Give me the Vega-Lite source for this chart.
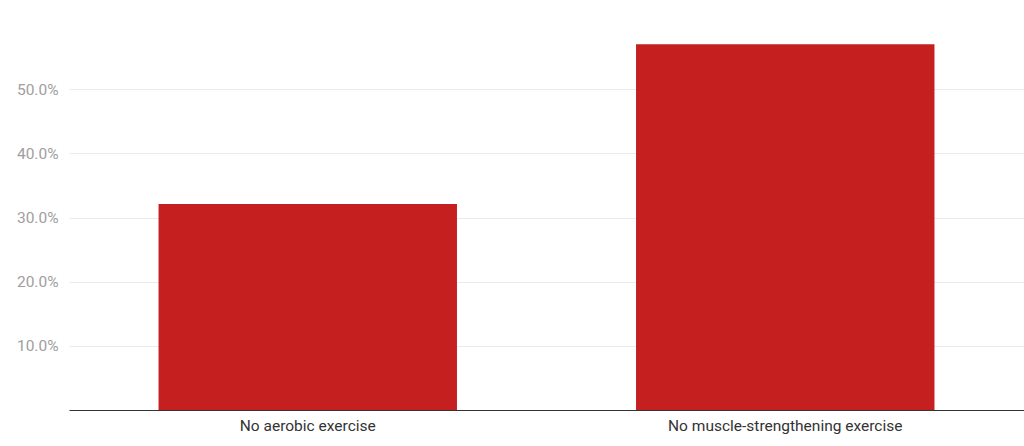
{
  "$schema": "https://vega.github.io/schema/vega-lite/v6.json",
  "width": 955,
  "height": 410,
  "autosize": "none",
  "padding": {"left": 69, "top": 0, "right": 0, "bottom": 36},
  "background": "white",
  "config": {
    "view": {"stroke": null},
    "font": "Roboto"
  },
  "data": {
    "values": [
      {"category": "No aerobic exercise", "share": 0.321},
      {"category": "No muscle-strengthening exercise", "share": 0.570}
    ]
  },
  "mark": {"type": "bar", "color": "#c61f1f"},
  "encoding": {
    "x": {
      "field": "category",
      "type": "nominal",
      "sort": null,
      "scale": {"paddingInner": 0.375, "paddingOuter": 0.1875},
      "axis": {
        "title": null,
        "labelAngle": 0,
        "labelLimit": 0,
        "labelFont": "Roboto",
        "labelFontSize": 15.5,
        "labelColor": "#333333",
        "labelPadding": 8,
        "ticks": false,
        "domainColor": "#333333",
        "domainWidth": 1
      }
    },
    "y": {
      "field": "share",
      "type": "quantitative",
      "scale": {"domain": [0, 0.639], "nice": false},
      "axis": {
        "title": null,
        "values": [0.1, 0.2, 0.3, 0.4, 0.5],
        "format": ".1%",
        "labelFont": "Roboto",
        "labelFontSize": 15.5,
        "labelColor": "#9e9e9e",
        "labelPadding": 11,
        "ticks": false,
        "domain": false,
        "gridColor": "#ebebeb",
        "gridWidth": 1
      }
    }
  }
}
